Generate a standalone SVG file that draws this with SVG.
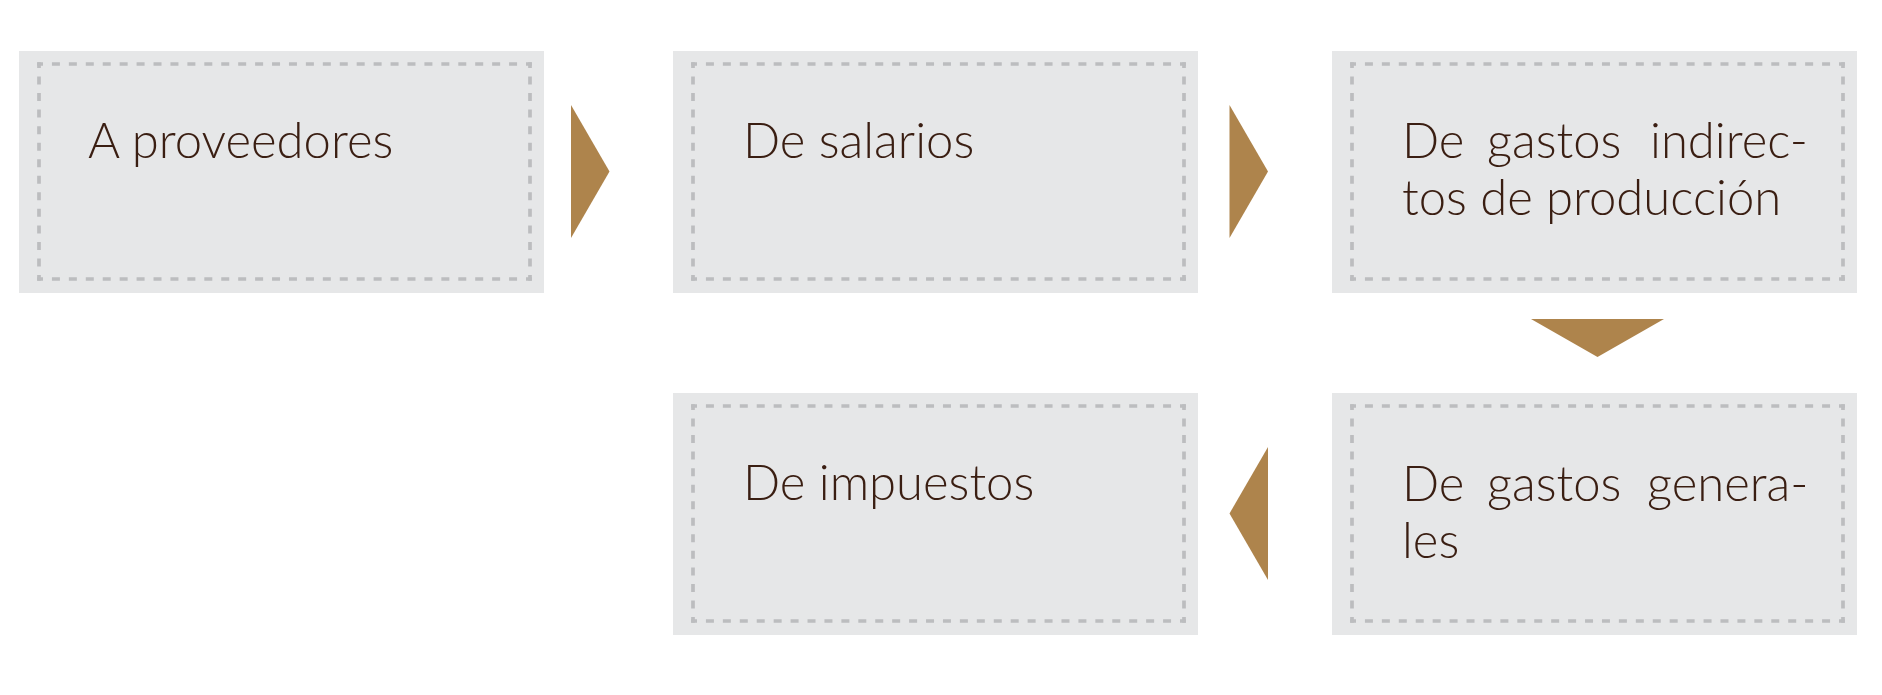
<svg xmlns="http://www.w3.org/2000/svg" width="1882" height="695" viewBox="0 0 1882 695">
  <style>
    .box { fill: #e6e7e8; }
    .dh { fill: none; stroke: #bcbdbf; stroke-width: 3.7; stroke-dasharray: 8 8.931; stroke-dashoffset: 2.15; }
    .dv { fill: none; stroke: #bcbdbf; stroke-width: 3.7; stroke-dasharray: 8 8.538; stroke-dashoffset: 2.15; }
    .arrow { fill: #ae844c; }
    .lbl { font-family: "Lato Light", Lato, "Open Sans", "Liberation Sans", sans-serif; font-weight: 300; font-size: 49px; fill: #3a1e12; }
  </style>
  <defs>
    <g id="frame">
      <rect class="box" x="0" y="0" width="525" height="242"/>
      <line class="dh" x1="18.15" y1="13" x2="512.85" y2="13"/>
      <line class="dh" x1="18.15" y1="228" x2="512.85" y2="228"/>
      <line class="dv" x1="20" y1="11.15" x2="20" y2="229.85"/>
      <line class="dv" x1="511" y1="11.15" x2="511" y2="229.85"/>
    </g>
  </defs>
  <rect width="1882" height="695" fill="#ffffff"/>

  <g id="connectors">
    <polygon class="arrow" points="571,105 571,238 609.5,171.5"/>
    <polygon class="arrow" points="1229.5,105 1229.5,238 1268,171.5"/>
    <polygon class="arrow" points="1531,319 1664,319 1597.5,357"/>
    <polygon class="arrow" points="1268,447 1268,580 1229.5,513.5"/>
  </g>

  <g id="node-proveedores">
    <use href="#frame" x="19" y="51"/>
    <text class="lbl" x="88" y="158">A proveedores</text>
  </g>

  <g id="node-salarios">
    <use href="#frame" x="673" y="51"/>
    <text class="lbl" x="743" y="158">De salarios</text>
  </g>

  <g id="node-indirectos">
    <use href="#frame" x="1332" y="51"/>
    <text class="lbl" y="158"><tspan x="1402">De</tspan><tspan x="1487">gastos</tspan><tspan x="1650">indirec-</tspan></text>
    <text class="lbl" x="1402" y="215">tos de producción</text>
  </g>

  <g id="node-generales">
    <use href="#frame" x="1332" y="393"/>
    <text class="lbl" y="501"><tspan x="1402">De</tspan><tspan x="1487">gastos</tspan><tspan x="1647">genera-</tspan></text>
    <text class="lbl" x="1402" y="558">les</text>
  </g>

  <g id="node-impuestos">
    <use href="#frame" x="673" y="393"/>
    <text class="lbl" x="743" y="500">De impuestos</text>
  </g>
</svg>
